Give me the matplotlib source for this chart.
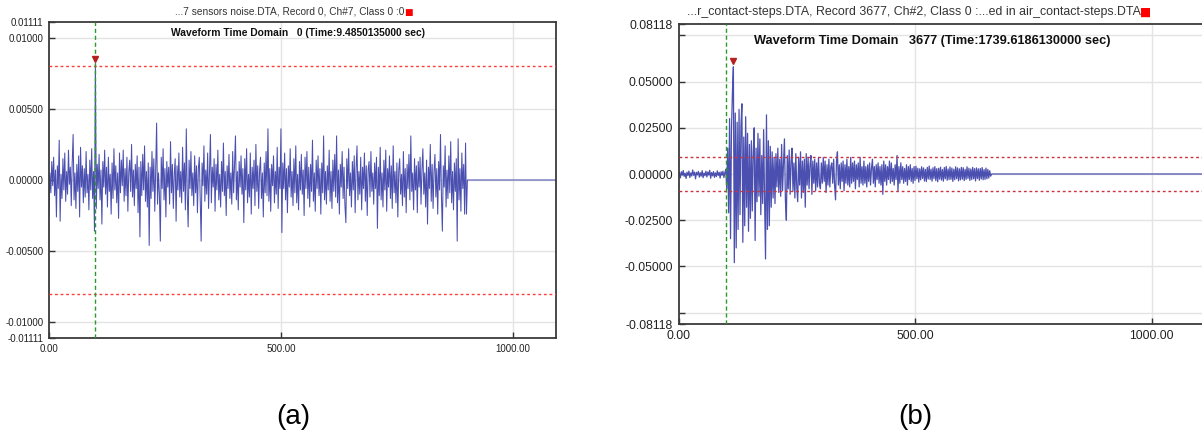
# -*- coding: utf-8 -*-

import numpy as np
import matplotlib
matplotlib.use("Agg")
import matplotlib.pyplot as plt
from matplotlib.transforms import offset_copy

plt.rcParams['font.family'] = ['Liberation Sans', 'DejaVu Sans']

# --- record (a): sensor noise, Ch#7, one sample every 2 us, values in mV
a_step = 2.0
a_length = 1093.0
a_trigger = 100.0
a_threshold = 0.008
a_mv = [
    -2.4, 0.5, -0.9, 1.3, -0.4, 1.6, -1.1, 0.7, -2.6, 1.0, -0.6, 2.8, -2.9, 0.4, -1.3, 1.5, -0.7, 1.9, -1.5, 0.6, -1.0, 2.1, -0.3, 0.9, -1.8,
    1.2, 3.2, -1.4, 0.5, -2.0, 1.1, -0.8, 1.7, -2.6, 2.3, -0.5, 1.0, -1.6, 0.8, -1.2, 2.0, -0.9, 0.4, -2.1, 1.4, -0.7, 2.2, -1.3, 0.6, -3.6,
    8.2, -2.0, 1.1, -0.6, 1.8, -1.4, 0.7, -3.1, 1.3, -0.5, 2.1, -1.0, 0.9, -1.9, 1.6, -0.8, 0.4, -2.4, 1.2, -1.3, 2.2, -0.7, 1.0, -1.6, 0.5,
    -2.7, 1.9, -0.9, 1.4, -0.4, 2.1, -1.5, 0.8, -1.1, 1.6, -2.2, 0.6, 1.4, -0.8, 2.5, -1.2, 0.7, -1.8, 1.1, -0.6, 1.7, -2.3, 0.9, -4.0, 1.3,
    -1.1, 1.8, -0.7, 2.4, -1.5, 0.6, -1.9, 1.2, -4.6, 0.9, -1.3, 2.0, -0.8, 1.5, -2.2, 0.7, 4.0, -1.7, 0.5, -1.0, -4.3, 1.6, -0.6, 2.2, -1.4,
    0.8, -2.6, 1.3, -0.5, 0.9, -1.7, 2.7, -0.9, 1.1, -2.0, 0.4, 1.5, -2.9, 1.0, -0.7, 1.9, -1.2, 0.6, -1.6, 2.3, -0.8, 1.2, -2.1, 3.6, -1.0,
    -3.3, 1.4, -0.6, 2.0, -1.1, 0.5, -1.8, 1.7, -0.9, 1.0, -2.3, 0.8, 1.6, -1.3, -4.3, 1.2, -0.4, 2.4, -1.5, 0.7, -1.0, 1.9, -2.0, 0.6, 3.2,
    -1.6, 0.9, -0.5, 1.5, -2.2, 1.1, -0.7, 2.1, -1.4, 0.4, -1.9, 1.3, -0.8, 2.6, -1.1, 0.6, -2.5, 1.0, -0.6, 1.8, -1.3, 0.5, -1.7, 2.0, -0.9,
    1.1, 3.1, -1.4, 0.6, -2.1, 1.3, -0.5, 1.7, -1.0, 0.8, -3.0, 1.5, -0.7, 2.2, -1.6, 0.4, -1.2, 1.9, -2.4, 0.9, -0.6, 1.4, -1.8, 2.5, -0.8,
    1.0, -2.0, 0.7, 1.6, -1.3, 0.5, -2.6, 1.2, -0.9, 2.0, -1.1, 3.6, -1.5, 0.8, -2.2, 1.1, -0.4, 1.7, -1.6, 0.6, -1.0, 2.3, -2.0, 0.9, -0.6,
    3.6, -3.7, 1.2, -0.6, 1.9, -1.4, 0.8, -2.3, 1.0, -0.5, 2.2, -1.2, 0.6, -1.8, 1.5, -0.9, 2.4, -1.6, 0.4, -2.1, 1.3, -0.7, 1.8, -1.0, 0.7,
    -2.5, 1.6, -0.6, 2.0, -1.3, 0.9, -1.9, 1.1, -0.8, 2.8, -1.5, 0.5, -2.2, 1.4, -0.6, 1.7, -1.1, 0.8, -2.4, 1.2, -0.9, 3.1, -1.4, 0.6, -1.7,
    1.0, -0.7, 2.1, -1.5, 0.6, -2.0, 1.4, -0.8, 1.8, -1.2, 3.1, -1.6, 0.7, -2.4, 1.1, -0.5, 2.0, -1.3, 0.9, -1.8, -3.0, 1.5, -0.6, 2.2, -1.1,
    0.5, -1.9, 1.3, -0.7, 1.7, -2.3, 0.8, 2.4, -1.4, 0.6, -1.0, 1.6, -2.1, 0.9, -0.6, 1.9, -1.5, 1.0, -2.5, 0.7, 1.3, -1.2, 2.0, -0.8, 0.5,
    -1.7, 1.2, -0.6, 1.6, -3.4, 0.9, -1.1, 2.3, -1.4, 0.5, -1.9, 1.4, -0.7, 2.1, -2.2, 0.8, -0.5, 1.7, -1.3, 1.0, -2.0, 2.4, -0.9, 0.6, -1.6,
    1.2, -2.6, 0.7, 1.5, -1.0, 0.4, -1.8, 2.0, -1.2, 0.8, -2.3, 1.1, -0.6, 1.8, -1.4, 3.1, -0.8, 0.5, -2.1, 1.5, -0.7, 1.0, -2.3, 1.3, -0.5,
    1.6, -1.7, 0.7, 2.2, -1.0, 0.5, -1.9, 1.4, -3.1, 0.9, -0.6, 2.5, -1.5, 1.1, -2.0, 0.6, 1.8, -1.2, 0.8, -2.4, 1.3, -0.7, 3.2, -1.1, -3.6,
    1.0, -0.5, 2.4, -1.9, 0.7, -1.3, 1.7, -0.9, 2.7, -1.6, 0.6, -2.1, 1.2, -0.8, 1.5, -4.3, 2.9, -1.4, 0.8, -2.2, 1.9, -0.6, 1.1, -2.4, 2.6,
    -2.4,
]
a_yticks = [-0.01111, -0.01, -0.005, 0.0, 0.005, 0.01, 0.01111]
a_ylabels = ['-0.01111', '-0.01000', '-0.00500', '0.00000', '0.00500', '0.01000', '0.01111']
a_grid_y = [-0.01, -0.005, 0.0, 0.005, 0.01]
a_file = '...7 sensors noise.DTA, Record 0, Ch#7, Class 0 :0'
a_head = 'Waveform Time Domain   0 (Time:9.4850135000 sec)'

# --- record (b): contact steps, Ch#2, one sample every 2 us, values in mV
b_step = 2.0
b_length = 1125.0
b_trigger = 100.0
b_threshold = 0.0091
b_mv = [
    -1.5, 0.8, -2.1, 1.2, -0.6, 1.9, -1.3, 0.4, -2.4, 1.0, -0.8, 1.6, -1.9, 0.6, -1.1, 2.2, -0.7, 1.0, -2.6, 0.9, -0.5, 1.4, -1.7, 0.7, -1.2,
    1.8, -2.0, 0.5, -0.9, 1.5, -1.6, 1.1, -0.6, 2.0, -2.3, 0.8, -1.0, 1.3, -1.8, 0.6, -1.4, 1.7, -0.8, 0.9, -2.2, 1.2, -0.7, 1.5, -1.9, 0.7,
    2.5, -8, 14, -21, 30, -35, 24, 44, 58, -48, 33, -40, 28, -30, 35, -22, 26, 38, -37, 20, -28, 31, -18, 22, -31,
    16, -24, 18, -20, 12, 25, -36, 14, -15, 22, -12, 19, -22, 10, -16, 24, -14, -46, 32, -30, 18, -28, 15, -18, 12,
    -13, 9, -16, 11, -7, 14, -10, 8, -12, 16, -9, 6, 19, -14, -25, 10, -8, 13, -11, 7, 14, -9, 6, -13, 11,
    -7, -15, 9, -6, 12, -13, 7, -10, 8, -18, 11, -6, 9, -8, 5, 10, -11, 7, -5, 8, -9, 6, -7, 9, -5,
    -8, 6, -5, 9, -4, 7, -10, 5, -6, 8, -7, 4, 6, -5, 8, -6, -14, 7, 12, -6, 5, -8, 6, -4, 7,
    -9, 5, -5, 8, -6, 4, -7, 9, -5, 6, -4, 7, -8, 5, -3, 6, -7, 9, -5, 4, -6, 7, -5, 4, -7,
    5, -4, 6, -6, 3, 8, -5, 4, -7, 5, -3, 6, -5, 4, -6, 5, -11, 7, -4, 5, -6, 4, -3, 7, -5,
    6, -4, 3, -6, 5, -3, 10, -9, 4, -5, 6, -3, 4, -5, 3, -4, 5, -6, 4, -3, 5, -4, 3, -5, 4,
    -3.5, 4.2, -2.6, 3.1, -4.4, 2.8, -3.2, 3.9, -2.4, 3.3, -3.8, 2.5, -4.1, 3.6, -2.7, 4.3, -3.0, 2.6, -3.9, 3.4, -2.5, 4.0, -3.6, 2.9, -4.2,
    3.1, -2.8, 3.7, -3.3, 2.4, -3.9, 3.5, -2.6, 4.1, -3.4, 2.7, -3.0, 3.8, -2.9, 3.2, -4.0, 2.6, -3.1, 3.9, -2.5, 3.3, -3.7, 2.8, -3.2, 3.6,
    -2.8, 3.4, -3.6, 2.5, -2.9, 3.9, -2.4, 3.1, -3.5, 2.7, -3.0, 3.6, -2.6, 2.9, -3.8, 3.3, -2.5, 2.8, -3.4, 3.0, -2.7, 3.5, -3.1, 2.4, -2.9,
    3.2, -2.6, 2.5, -2.2, 1.8, -1.2,
]
b_yticks = [-0.08118, -0.075, -0.05, -0.025, 0.0, 0.025, 0.05, 0.075, 0.08118]
b_ylabels = ['-0.08118', '', '-0.05000', '-0.02500', '0.00000', '0.02500', '0.05000', '', '0.08118']
b_grid_y = [-0.075, -0.05, -0.025, 0.0, 0.025, 0.05, 0.075]
b_file = '...r_contact-steps.DTA, Record 3677, Ch#2, Class 0 :...ed in air_contact-steps.DTA'
b_head = 'Waveform Time Domain   3677 (Time:1739.6186130000 sec)'

x_ticks = [0, 500, 1000]
x_labels = ['0.00', '500.00', '1000.00']

W, H = 1202, 437
fig = plt.figure(figsize=(W / 100, H / 100), dpi=100)


def px_axes(l, t, r, b):
    return fig.add_axes([l / W, 1 - b / H, (r - l) / W, (b - t) / H])


def waveform(ax, mv, step, length, trigger, thr, ylim, yticks, ylabels, grid_y,
             fs, red, tri_off, lw):
    v = np.asarray(mv) * 1e-3
    t = np.arange(len(v)) * step
    # zero tail after the recorded samples
    t = np.append(t, [t[-1] + step, length])
    v = np.append(v, [0.0, 0.0])

    for g in grid_y:
        ax.axhline(g, color='#e4e4e4', lw=1.0, zorder=0)
    for g in x_ticks[1:]:
        ax.axvline(g, color='#e4e4e4', lw=1.0, zorder=0)

    ax.plot(t, v, color='#4b50b0', lw=lw, zorder=2)
    ax.axhline(thr, color=red, lw=1.0, ls=(0, (2, 2)), zorder=3)
    ax.axhline(-thr, color=red, lw=1.0, ls=(0, (2, 2)), zorder=3)
    ax.axvline(trigger, color='#2a9a2a', lw=1.0, ls=(0, (3, 2)), zorder=3)

    k = int(np.argmax(v))
    tr = offset_copy(ax.transData, fig=fig, x=0, y=tri_off, units='points')
    ax.plot([t[k]], [v[k]], marker='v', ms=4.5, color='#b52020', transform=tr,
            zorder=4, clip_on=False)

    ax.set_xlim(0, length)
    ax.set_ylim(*ylim)
    ax.set_xticks(x_ticks)
    ax.set_xticklabels(x_labels)
    ax.set_yticks(yticks)
    ax.set_yticklabels(ylabels)
    ax.tick_params(direction='in', length=4, width=1, color='#333333',
                   labelsize=fs, labelcolor='#222222', pad=4)
    for s in ax.spines.values():
        s.set_color('#3a3a3a')
        s.set_linewidth(1.3)


ax_a = px_axes(49, 22, 556, 338)
waveform(ax_a, a_mv, a_step, a_length, a_trigger, a_threshold,
         (-0.01111, 0.01111), a_yticks, a_ylabels, a_grid_y, 7, '#ff3a3a', 3, 0.75)

ax_b = px_axes(678.5, 24, 678.5 + b_length * 0.473, 324)
waveform(ax_b, b_mv, b_step, b_length, b_trigger, b_threshold,
         (-0.08118, 0.08118), b_yticks, b_ylabels, b_grid_y, 8.8, '#cc3340', 4, 0.9)

fig.canvas.draw()
renderer = fig.canvas.get_renderer()


def file_title(cx, cy, text, fs, sq):
    tx = fig.text(cx / W, 1 - cy / H, text, ha='center', va='center',
                  fontsize=fs, color='#333333')
    bb = tx.get_window_extent(renderer)
    fig.text(bb.x1 / W - 0.0005, 1 - cy / H, '\u25a0', ha='left', va='center',
             fontsize=sq, color='#ff0000', family=['DejaVu Sans'])


file_title(290, 12, a_file, 7.3, 6.5)
file_title(914, 12, b_file, 8.9, 8.5)

fig.text(298 / W, 1 - 33 / H, a_head, ha='center', va='center', fontsize=7.4,
         fontweight='bold', color='#111111')
fig.text(932 / W, 1 - 41 / H, b_head, ha='center', va='center', fontsize=9.2,
         fontweight='bold', color='#111111')

fig.text(293 / W, 1 - 417 / H, '(a)', ha='center', va='center', fontsize=20)
fig.text(915 / W, 1 - 417 / H, '(b)', ha='center', va='center', fontsize=20)

fig.savefig('out.png', dpi=100)
